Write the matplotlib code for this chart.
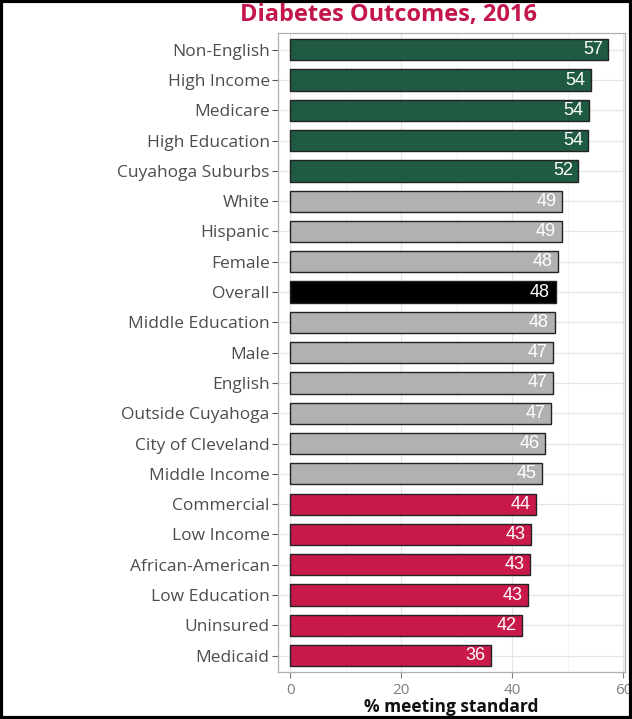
import numpy as np
import matplotlib.pyplot as plt
from matplotlib.ticker import MultipleLocator

categories = ["Non-English", "High Income", "Medicare", "High Education", "Cuyahoga Suburbs",
              "White", "Hispanic", "Female", "Overall", "Middle Education", "Male", "English",
              "Outside Cuyahoga", "City of Cleveland", "Middle Income", "Commercial", "Low Income",
              "African-American", "Low Education", "Uninsured", "Medicaid"]
values = [57.3, 54.1, 53.8, 53.7, 51.9, 49.0, 48.9, 48.3, 47.8, 47.6, 47.4, 47.3,
          47.0, 45.9, 45.4, 44.3, 43.4, 43.2, 42.9, 41.8, 36.2]
groups = ["high"] * 5 + ["mid"] * 3 + ["overall"] + ["mid"] * 6 + ["low"] * 6

group_colors = {"high": "#1f5b42", "mid": "#b2b0b1", "overall": "#000000", "low": "#c8194a"}

fig = plt.figure(figsize=(6.32, 7.19), dpi=100)
ax = fig.add_axes([0.44, 0.065, 0.549, 0.889])

y = np.arange(len(categories))
colors = [group_colors[g] for g in groups]
ax.barh(y, values, height=0.7, color=colors, edgecolor="#222222", linewidth=1.0, zorder=3)

for yi, v in zip(y, values):
    ax.text(v - 1.0, yi, f"{v:.0f}", ha="right", va="center", color="white",
            fontsize=13, family="Liberation Sans", zorder=4)

ax.set_ylim(len(categories) - 0.45, -0.55)
ax.set_xlim(-2.2, 60.3)
ax.set_yticks(y)
ax.set_yticklabels(categories, family="Open Sans", fontsize=12.5, color="#4d4d4d")
ax.xaxis.set_major_locator(MultipleLocator(20))
ax.xaxis.set_minor_locator(MultipleLocator(10))
for lab in ax.get_xticklabels():
    lab.set_family("Open Sans")
ax.tick_params(axis="x", labelsize=11, colors="#7f7f7f", length=4, width=0.8)
ax.tick_params(axis="x", which="minor", length=0)
ax.tick_params(axis="y", length=4, width=0.8, color="#555555", pad=2)

ax.grid(True, which="major", color="#e6e6e6", linewidth=0.9, zorder=0)
ax.grid(True, which="minor", axis="x", color="#f1f1f1", linewidth=0.6, zorder=0)
for s in ax.spines.values():
    s.set_color("#b0b0b0")
    s.set_linewidth(0.9)

ax.set_xlabel("% meeting standard", family="Open Sans", fontweight="bold", fontsize=12.5,
              color="#111111", labelpad=0)
fig.text(0.614, 0.979, "Diabetes Outcomes, 2016", ha="center", va="center",
         family="Open Sans", fontweight="bold", fontsize=17, color="#c3174b")

# outer frame
fig.patches.append(plt.Rectangle((0.002, 0.002), 0.996, 0.996, transform=fig.transFigure,
                                 fill=False, edgecolor="black", linewidth=3))

fig.savefig("out.png", dpi=100)
